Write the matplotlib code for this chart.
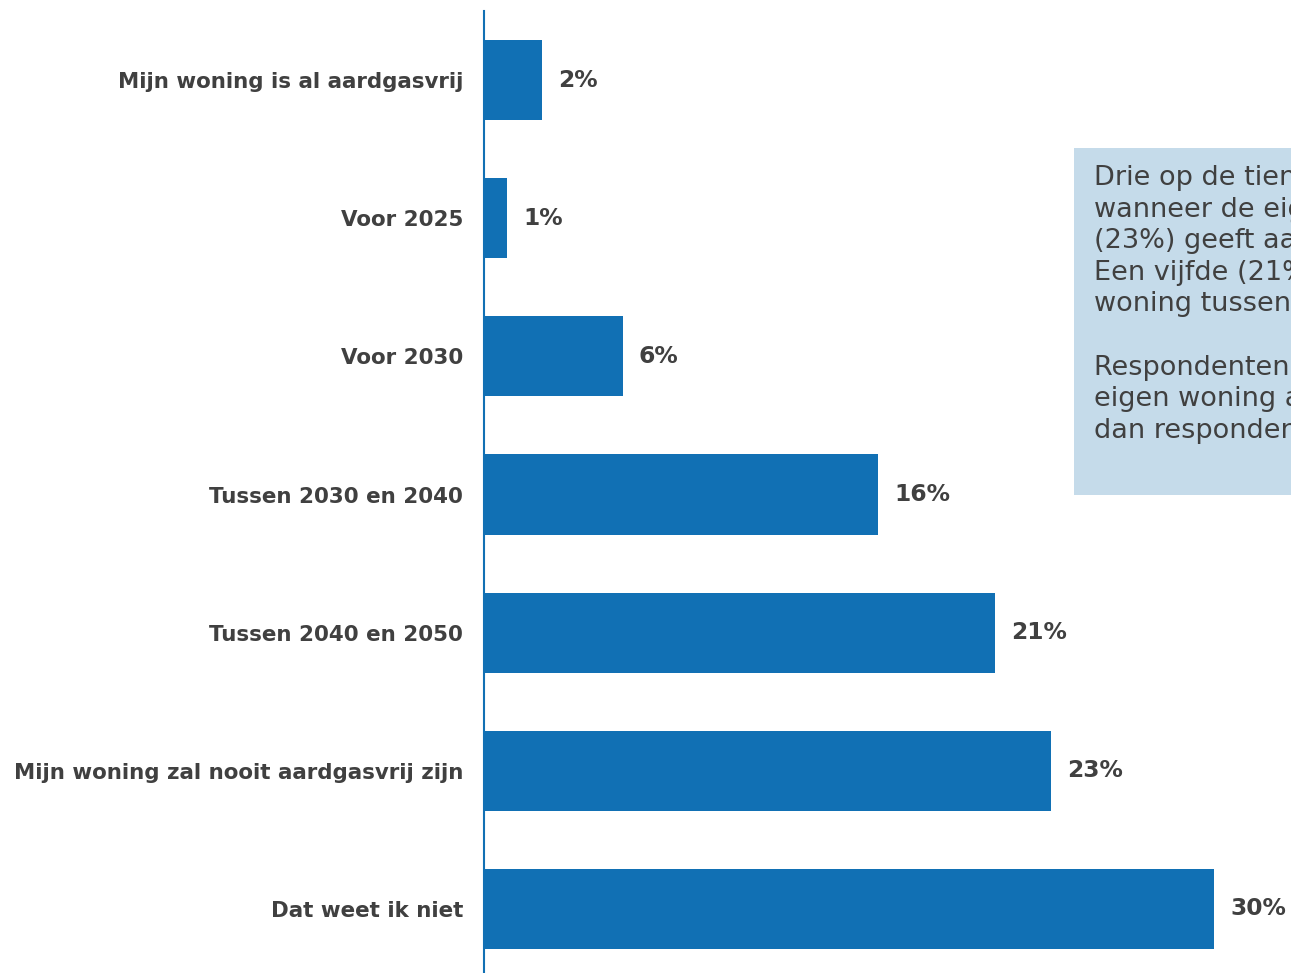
import matplotlib.pyplot as plt
from matplotlib.patches import Rectangle

categories = [
    "Mijn woning is al aardgasvrij",
    "Voor 2025",
    "Voor 2030",
    "Tussen 2030 en 2040",
    "Tussen 2040 en 2050",
    "Mijn woning zal nooit aardgasvrij zijn",
    "Dat weet ik niet",
]
values = [2.4, 0.95, 5.7, 16.2, 21.0, 23.3, 30.0]
value_labels = ["2%", "1%", "6%", "16%", "21%", "23%", "30%"]

box_lines = [
    "Drie op de tien respondenten weet niet",
    "wanneer de eigen woning aardgasvrij is",
    "(23%) geeft aan dat de eigen woning",
    "Een vijfde (21%) verwacht de eigen",
    "woning tussen 2040 en 2050",
    "",
    "Respondenten verwachten dat de",
    "eigen woning aardgasvrij wordt",
    "dan respondenten",
]

bar_color = "#1170b4"
text_color = "#404040"

W, H = 1291, 973
fig = plt.figure(figsize=(W / 100, H / 100), dpi=100)
fig.patch.set_facecolor("white")

# axes in pixel coords: spine at x=484, bar 30% ends at x=1214
ax_left, ax_right = 484, 1214
ax_top, ax_bottom = 11, 978
ax = fig.add_axes([ax_left / W, (H - ax_bottom) / H,
                   (ax_right - ax_left) / W, (ax_bottom - ax_top) / H])

y = list(range(len(categories)))
ax.barh(y, values, height=0.58, color=bar_color)
ax.set_xlim(0, 30)
ax.set_ylim(len(categories) - 0.5, -0.5)

for yi, v, lab in zip(y, values, value_labels):
    ax.annotate(lab, (v, yi), xytext=(16, 0), textcoords="offset pixels",
                va="center", ha="left", fontsize=16.8, fontweight="bold",
                color=text_color, family="DejaVu Sans", annotation_clip=False)

ax.set_yticks(y)
ax.set_yticklabels(categories, fontsize=15.4, fontweight="bold", color=text_color,
                   family="DejaVu Sans")
ax.tick_params(axis="y", length=0, pad=15)
ax.set_xticks([])
for s in ["top", "right", "bottom"]:
    ax.spines[s].set_visible(False)
ax.spines["left"].set_color(bar_color)
ax.spines["left"].set_linewidth(1.5)
ax.patch.set_alpha(0)

# tekstvak rechts (valt buiten de figuur)
bx0, by0, bx1, by1 = 1074, 148, 1400, 495
fig.patches.append(Rectangle((bx0 / W, 1 - by1 / H), (bx1 - bx0) / W, (by1 - by0) / H,
                             transform=fig.transFigure, facecolor="#c5dbea",
                             edgecolor="none", zorder=0))
fig.text(1094 / W, 1 - 165 / H, "\n".join(box_lines), ha="left", va="top",
         fontsize=19.5, color=text_color, family="DejaVu Sans", linespacing=1.28)

fig.savefig("out.png", dpi=100)
